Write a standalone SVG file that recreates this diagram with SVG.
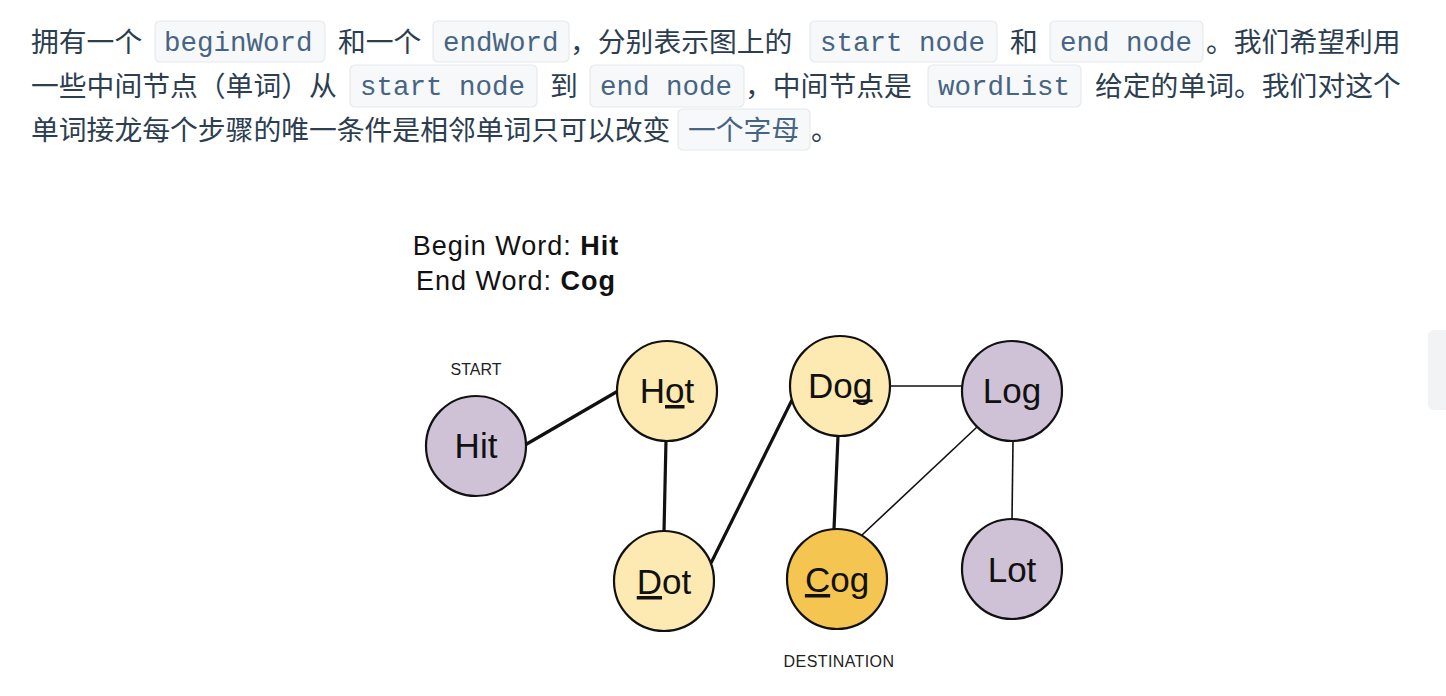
<svg xmlns="http://www.w3.org/2000/svg" width="1446" height="696" viewBox="0 0 1446 696">
<style>
.cn{font-family:"Noto Sans CJK SC","Noto Sans",sans-serif;font-size:27.8px;fill:#2c3e50}
.code{font-family:"Liberation Mono","DejaVu Sans Mono",monospace;font-size:27.5px;fill:#476582}
.codecn{font-family:"Noto Sans CJK SC",sans-serif;font-size:27.8px;fill:#476582}
.box{fill:#f6f8fa;stroke:#e6e9ec;stroke-width:1.2}
.title{font-family:"Liberation Sans",Arial,sans-serif;font-size:27px;fill:#111;letter-spacing:1px}
.small{font-family:"Liberation Sans",Arial,sans-serif;font-size:16px;fill:#222}
.lbl{font-family:"Liberation Sans",Arial,sans-serif;font-size:35px;fill:#111;text-anchor:middle}
.ul{text-decoration:underline;text-decoration-skip-ink:none}
.node{stroke:#111;stroke-width:2.2}
.purple{fill:#cfc1d6}
.yellow{fill:#fde9b2}
.gold{fill:#f5c552}
.thick{stroke:#111;stroke-width:3.2;fill:none}
.thin{stroke:#111;stroke-width:1.6;fill:none}
</style>
<rect width="1446" height="696" fill="#ffffff"/>

<g id="paragraph">
<rect class="box" x="155" y="21" width="170" height="41" rx="5"/>
<rect class="box" x="433" y="21" width="136" height="41" rx="5"/>
<rect class="box" x="810" y="21" width="187" height="41" rx="5"/>
<rect class="box" x="1050" y="21" width="153" height="41" rx="5"/>
<rect class="box" x="350" y="65" width="187" height="42" rx="5"/>
<rect class="box" x="590" y="65" width="154" height="42" rx="5"/>
<rect class="box" x="928" y="65" width="153" height="42" rx="5"/>
<rect class="box" x="678" y="109" width="132" height="41" rx="5"/>

<text class="cn" x="31" y="52">拥有一个</text>
<text class="code" x="164" y="51">beginWord</text>
<text class="cn" x="338" y="52">和一个</text>
<text class="code" x="443" y="51">endWord</text>
<text class="cn" x="570" y="52">，分别表示图上的</text>
<text class="code" x="820" y="51">start node</text>
<text class="cn" x="1010" y="52">和</text>
<text class="code" x="1060" y="51">end node</text>
<text class="cn" x="1206" y="52">。我们希望利用</text>

<text class="cn" x="31" y="96">一些中间节点（单词）从</text>
<text class="code" x="360" y="95">start node</text>
<text class="cn" x="550" y="96">到</text>
<text class="code" x="600" y="95">end node</text>
<text class="cn" x="745" y="96">，中间节点是</text>
<text class="code" x="938" y="95">wordList</text>
<text class="cn" x="1095" y="96">给定的单词。我们对这个</text>

<text class="cn" x="31" y="140">单词接龙每个步骤的唯一条件是相邻单词只可以改变</text>
<text class="codecn" x="688" y="140">一个字母</text>
<text class="cn" x="811" y="140">。</text>
</g>

<rect id="side-tab" x="1428" y="330" width="30" height="80" rx="6" fill="#f2f3f4"/>

<g id="heading">
<text class="title" x="516" y="255" text-anchor="middle">Begin Word: <tspan font-weight="bold">Hit</tspan></text>
<text class="title" x="516" y="290" text-anchor="middle">End Word: <tspan font-weight="bold">Cog</tspan></text>
<text class="small" x="476" y="375" text-anchor="middle">START</text>
<text class="small" x="839" y="667" text-anchor="middle" letter-spacing="0.4">DESTINATION</text>
</g>

<g id="connectors">
<line class="thick" x1="525" y1="445" x2="618" y2="391"/>
<line class="thick" x1="666" y1="440" x2="664" y2="532"/>
<line class="thick" x1="711" y1="563" x2="792" y2="400"/>
<line class="thick" x1="838" y1="436" x2="834" y2="529"/>
<line class="thin" x1="889" y1="386" x2="962" y2="386"/>
<line class="thin" x1="977" y1="427" x2="862" y2="535"/>
<line class="thin" x1="1013" y1="441" x2="1012" y2="520"/>
</g>

<g id="node-hit">
<circle class="node purple" cx="476" cy="446" r="50"/>
<text class="lbl" x="476" y="458">Hit</text>
</g>
<g id="node-hot">
<circle class="node yellow" cx="667" cy="391" r="50"/>
<text class="lbl" x="667" y="403">H<tspan class="ul">o</tspan>t</text>
</g>
<g id="node-dog">
<circle class="node yellow" cx="840" cy="386" r="50"/>
<text class="lbl" x="840" y="398">Dog</text>
<rect x="853" y="399.5" width="19.5" height="2.6" fill="#111"/>
</g>
<g id="node-log">
<circle class="node purple" cx="1012" cy="391" r="50"/>
<text class="lbl" x="1012" y="403">Log</text>
</g>
<g id="node-dot">
<circle class="node yellow" cx="664" cy="581" r="50"/>
<text class="lbl" x="664" y="594"><tspan class="ul">D</tspan>ot</text>
</g>
<g id="node-cog">
<circle class="node gold" cx="837" cy="579" r="50"/>
<text class="lbl" x="837" y="592"><tspan class="ul">C</tspan>og</text>
</g>
<g id="node-lot">
<circle class="node purple" cx="1012" cy="569" r="50"/>
<text class="lbl" x="1012" y="582">Lot</text>
</g>
</svg>
